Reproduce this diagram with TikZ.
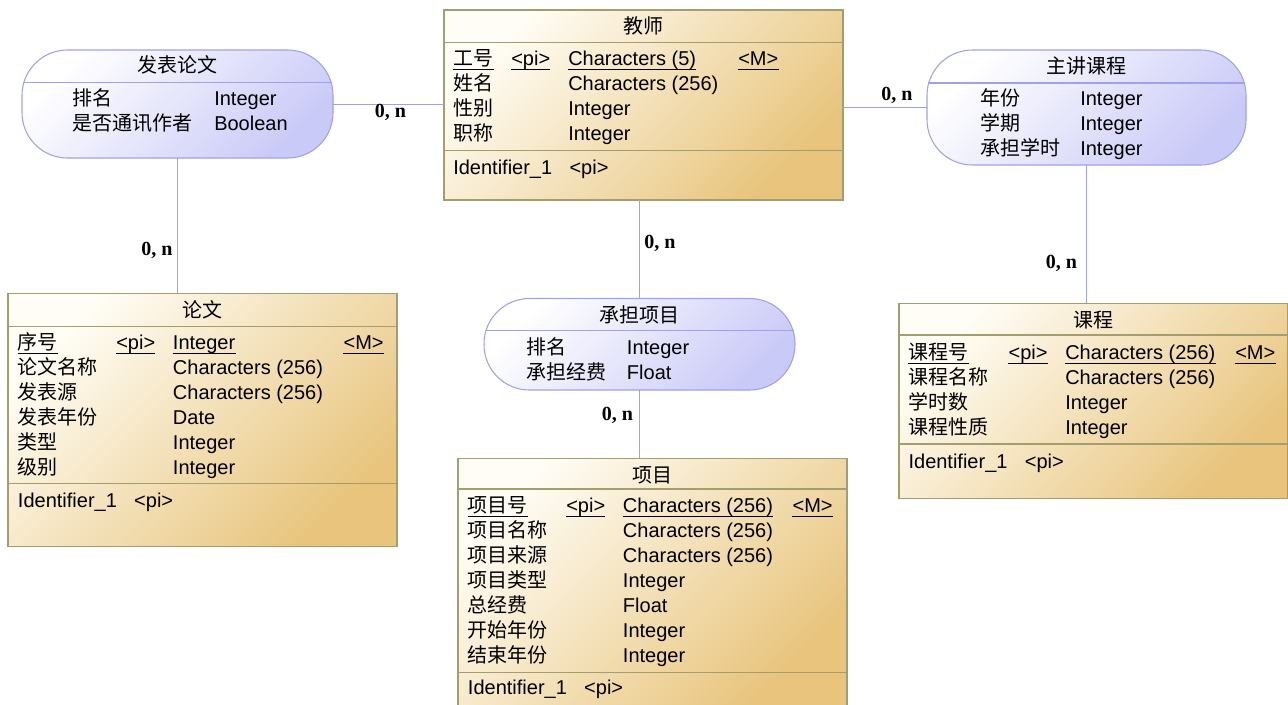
\documentclass[tikz,border=0pt]{standalone}
\usepackage{fontspec}
\setmainfont{Liberation Sans}
\newfontfamily\cjk{Noto Sans CJK SC}
\newfontfamily\cardfont{Liberation Serif}
\usetikzlibrary{fit}

\definecolor{entline}{HTML}{A39E6E}
\definecolor{entlight}{HTML}{FFFDF5}
\definecolor{entdark}{HTML}{E8C47C}
\definecolor{relline}{HTML}{A0A0F0}
\definecolor{reldark}{HTML}{CACAF8}

\tikzset{
  entity/.style={draw=entline, line width=0.8pt, top color=entlight, bottom color=entdark, shading angle=45, inner sep=0pt, outer sep=0pt},
  relation/.style={draw=relline, line width=0.8pt, top color=white, bottom color=reldark, shading angle=45, rounded corners=34pt, inner sep=0pt, outer sep=0pt},
  entdiv/.style={draw=entline, line width=0.8pt},
  reldiv/.style={draw=relline, line width=0.8pt},
  txt/.style={anchor=base west, inner sep=0pt, font=\fontsize{15}{18}\selectfont},
  ttl/.style={anchor=base, inner sep=0pt, font=\fontsize{15}{18}\selectfont\cjk},
  card/.style={anchor=base, inner sep=0pt, font=\fontsize{15}{18}\selectfont\cardfont\bfseries},
  link/.style={draw=relline, line width=0.75pt},
  uline/.style={line width=0.75pt}
}

\newcommand{\keyitem}[3]{%
  \node[txt] (#1) at (#2) {#3};
  \draw[uline] ([yshift=-3pt]#1.base west) -- ([yshift=-3pt]#1.base east);}

\begin{document}
\begin{tikzpicture}[x=0.75pt, y=-0.75pt]
  \useasboundingbox (0,0) rectangle (1288,704);

  % entity 教师
  \node[entity, fit={(444,10) (843,200)}] (teacher) {};
  \node[ttl] (teacher-t) at (643.5,33.5) {教师};
  \draw[entdiv] (444,42.7) -- (843,42.7);
  \draw[entdiv] (444,150.7) -- (843,150.7);
  \keyitem{teacher-k1}{453,65}{\cjk 工号}
  \keyitem{teacher-k2}{511,65}{<pi>}
  \keyitem{teacher-k3}{568,65}{Characters (5)}
  \keyitem{teacher-k4}{738,65}{<M>}
  \foreach \nm/\ty [count=\i] in {姓名/Characters (256), 性别/Integer, 职称/Integer} {
    \node[txt] (teacher-n\i) at (453,65+25*\i) {\cjk \nm};
    \node[txt] (teacher-y\i) at (568,65+25*\i) {\ty};
  }
  \node[txt] (teacher-id) at (453,174) {Identifier\_1\hspace{13pt}<pi>};

  % entity 论文
  \node[entity, fit={(8,293.3) (397,546.7)}] (paper) {};
  \node[ttl] (paper-t) at (202.5,317.7) {论文};
  \draw[entdiv] (8,326.7) -- (397,326.7);
  \draw[entdiv] (8,483.3) -- (397,483.3);
  \keyitem{paper-k1}{17.7,349.7}{\cjk 序号}
  \keyitem{paper-k2}{116,349.7}{<pi>}
  \keyitem{paper-k3}{172.7,349.7}{Integer}
  \keyitem{paper-k4}{343.3,349.7}{<M>}
  \foreach \nm/\ty [count=\i] in {论文名称/Characters (256), 发表源/Characters (256), 发表年份/Date, 类型/Integer, 级别/Integer} {
    \node[txt] (paper-n\i) at (17.7,349.7+25*\i) {\cjk \nm};
    \node[txt] (paper-y\i) at (172.7,349.7+25*\i) {\ty};
  }
  \node[txt] (paper-id) at (17.7,507) {Identifier\_1\hspace{13pt}<pi>};

  % entity 项目
  \node[entity, fit={(458,458.3) (847,706)}] (project) {};
  \node[ttl] (project-t) at (652.5,482) {项目};
  \draw[entdiv] (458,489) -- (847,489);
  \draw[entdiv] (458,672.3) -- (847,672.3);
  \keyitem{project-k1}{467.7,512.7}{\cjk 项目号}
  \keyitem{project-k2}{566,512.7}{<pi>}
  \keyitem{project-k3}{622.7,512.7}{Characters (256)}
  \keyitem{project-k4}{792.3,512.7}{<M>}
  \foreach \nm/\ty [count=\i] in {项目名称/Characters (256), 项目来源/Characters (256), 项目类型/Integer, 总经费/Float, 开始年份/Integer, 结束年份/Integer} {
    \node[txt] (project-n\i) at (467.7,512.7+25*\i) {\cjk \nm};
    \node[txt] (project-y\i) at (622.7,512.7+25*\i) {\ty};
  }
  \node[txt] (project-id) at (467.7,694.7) {Identifier\_1\hspace{13pt}<pi>};

  % entity 课程
  \node[entity, fit={(899,303.3) (1287.5,498.3)}] (course) {};
  \node[ttl] (course-t) at (1093.5,327.7) {课程};
  \draw[entdiv] (899,335) -- (1287.5,335);
  \draw[entdiv] (899,444) -- (1287.5,444);
  \keyitem{course-k1}{908.3,359.7}{\cjk 课程号}
  \keyitem{course-k2}{1008.3,359.7}{<pi>}
  \keyitem{course-k3}{1065,359.7}{Characters (256)}
  \keyitem{course-k4}{1235,359.7}{<M>}
  \foreach \nm/\ty [count=\i] in {课程名称/Characters (256), 学时数/Integer, 课程性质/Integer} {
    \node[txt] (course-n\i) at (908.3,359.7+25*\i) {\cjk \nm};
    \node[txt] (course-y\i) at (1065,359.7+25*\i) {\ty};
  }
  \node[txt] (course-id) at (908.3,468.7) {Identifier\_1\hspace{13pt}<pi>};

  % relationship 发表论文
  \node[relation, fit={(22,50) (333,158)}] (publish) {};
  \node[ttl] (publish-t) at (177.5,72.7) {发表论文};
  \draw[reldiv] (23.2,82.7) -- (331.8,82.7);
  \foreach \nm/\ty [count=\i] in {排名/Integer, 是否通讯作者/Boolean} {
    \node[txt] (publish-n\i) at (72.3,80.3+25*\i) {\cjk \nm};
    \node[txt] (publish-y\i) at (214,80.3+25*\i) {\ty};
  }

  % relationship 主讲课程
  \node[relation, fit={(927,50) (1246,165)}] (lecture) {};
  \node[ttl] (lecture-t) at (1086.5,73.7) {主讲课程};
  \draw[reldiv] (928.2,83) -- (1244.8,83);
  \foreach \nm/\ty [count=\i] in {年份/Integer, 学期/Integer, 承担学时/Integer} {
    \node[txt] (lecture-n\i) at (980,80.3+25*\i) {\cjk \nm};
    \node[txt] (lecture-y\i) at (1080,80.3+25*\i) {\ty};
  }

  % relationship 承担项目
  \node[relation, fit={(484,298.5) (795,390)}] (undertake) {};
  \node[ttl] (undertake-t) at (639.5,322.7) {承担项目};
  \draw[reldiv] (485.5,330.7) -- (793.5,330.7);
  \foreach \nm/\ty [count=\i] in {排名/Integer, 承担经费/Float} {
    \node[txt] (undertake-n\i) at (526.7,329.7+25*\i) {\cjk \nm};
    \node[txt] (undertake-y\i) at (626.7,329.7+25*\i) {\ty};
  }

  % connectors
  \draw[link] (publish.east) -- (publish.east -| teacher.west);
  \draw[link] (publish.south) -- (publish.south |- paper.north);
  \draw[link] (lecture.west -| teacher.east) -- (lecture.west);
  \draw[link] (lecture.south) -- (lecture.south |- course.north);
  \draw[link] (undertake.north |- teacher.south) -- (undertake.north);
  \draw[link] (undertake.south) -- (undertake.south |- project.north);

  \node[card] (c-publish-teacher) at (390.5,117) {0, n};
  \node[card] (c-publish-paper) at (157,255.5) {0, n};
  \node[card] (c-lecture-teacher) at (897,100) {0, n};
  \node[card] (c-lecture-course) at (1061.5,268) {0, n};
  \node[card] (c-undertake-teacher) at (660,248.3) {0, n};
  \node[card] (c-undertake-project) at (617.5,420) {0, n};
\end{tikzpicture}
\end{document}
